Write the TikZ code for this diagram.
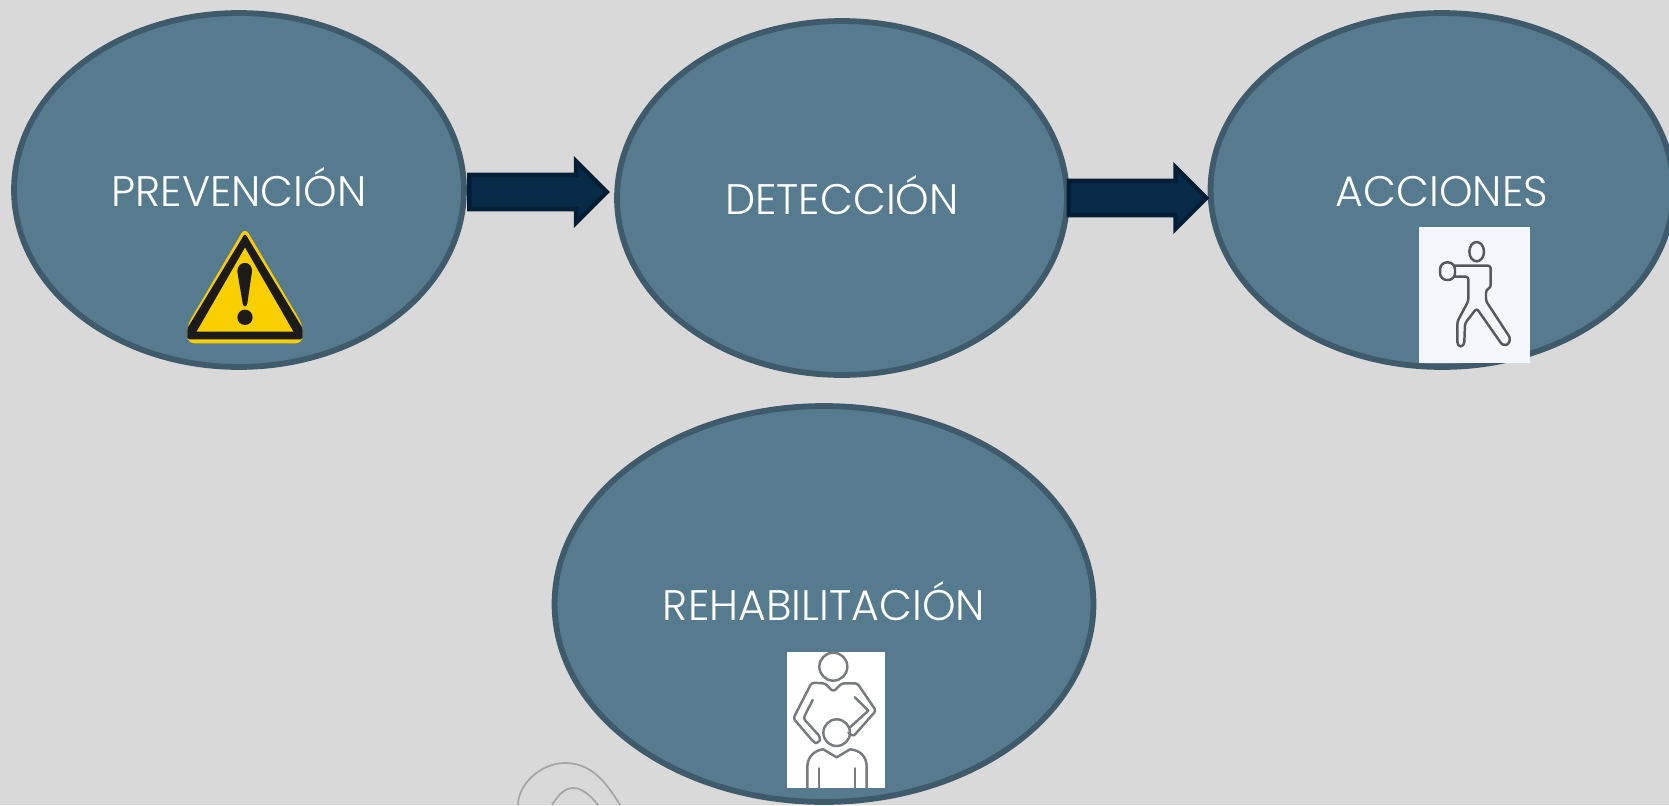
\documentclass[tikz,border=0pt]{standalone}
\usepackage{fontspec}
\setmainfont{Poppins Light}
\usetikzlibrary{shapes.geometric,shapes.arrows,positioning}

\definecolor{bggray}{HTML}{D9D9D9}
\definecolor{stagefill}{HTML}{567B8F}
\definecolor{stageline}{HTML}{3F5A6B}
\definecolor{arrowfill}{HTML}{072A48}
\definecolor{arrowline}{HTML}{041E36}
\definecolor{signyellow}{HTML}{FACF00}
\definecolor{signblack}{HTML}{1D1B19}
\definecolor{iconline}{HTML}{55595E}
\definecolor{iconback}{HTML}{F3F6FA}

\tikzset{
  stage/.style={ellipse, draw=stageline, fill=stagefill, line width = 3.3pt, inner sep = 0, text=white, font=\fontsize{24.3}{26}\selectfont, text height = 19pt, text depth = 0pt},
  bigarrow/.style={single arrow, draw=arrowline, fill=arrowfill, line width = 2.5pt, inner xsep = 0, inner ysep = 5pt, single arrow head extend = 5pt, single arrow tip angle = 90, minimum height = 78.2pt, minimum width = 35pt},
  iconstroke/.style={draw=iconline, line width = 1.4pt, line join=round, line cap=round}
}

\begin{document}
\begin{tikzpicture}[x=0.02cm,y=-0.02cm]

\fill [bggray] (0,0) rectangle (1669,805);
\useasboundingbox (0,0) rectangle (1669,805);
\clip (0,0) rectangle (1669,805);

\node [stage, minimum width = 9cm, minimum height = 7.08cm] (prevencion) at (239,190) {PREVENCIÓN};
\node [stage, minimum width = 9cm, minimum height = 7.08cm] (deteccion) at (842,198) {DETECCIÓN};
\node [stage, minimum width = 9.26cm, minimum height = 7.08cm] (acciones) at (1442,190) {ACCIONES};
\node [stage, minimum width = 10.78cm, minimum height = 7.92cm] (rehabilitacion) at (824,604) {REHABILITACIÓN};

\node [bigarrow] (arrowone) at (529.5,192) {};
\node [bigarrow] (arrowtwo) at (1129,198) {};

\begin{scope}[shift={(160,210)},x=0.00667cm,y=-0.00667cm]
  \fill [signyellow, rounded corners=4pt] (255,52) -- (428,345) -- (428,400) -- (82,400) -- (82,345) -- cycle;
  \fill [signblack, rounded corners=1pt] (255,70) -- (428,355) -- (428,388) -- (82,388) -- (82,355) -- cycle;
  \fill [signyellow] (255,113) -- (400,365) -- (110,365) -- cycle;
  \fill [signblack] (232,185) .. controls (232,150) and (278,150) .. (276,185) -- (262,280) .. controls (260,292) and (250,292) .. (248,280) -- cycle;
  \fill [signblack] (255,322) circle [radius=23];
\end{scope}

\begin{scope}[shift={(1400,215)},x=0.00667cm,y=-0.00667cm]
  \fill [iconback] (57,36) rectangle (390,443);
  \draw [iconstroke] (230,110) ellipse [x radius=22, y radius=29];
  \draw [iconstroke, rounded corners=4pt] (120,142) rectangle (165,195);
  \draw [iconstroke, rounded corners=1.5pt] (165,152) -- (272,152) -- (272,218) -- (258,225) -- (258,258) -- (328,365);
  \draw [iconstroke] (328,365) .. controls (335,392) and (310,398) .. (300,380);
  \draw [iconstroke, rounded corners=1.5pt] (300,380) -- (230,280) -- (195,325) -- (193,380);
  \draw [iconstroke] (193,380) .. controls (190,400) and (172,398) .. (172,380);
  \draw [iconstroke, rounded corners=1.5pt] (172,380) -- (172,320) -- (205,258) -- (205,185) -- (165,185);
\end{scope}

\begin{scope}[shift={(770,640)},x=0.00667cm,y=-0.00667cm]
  \fill [white] (50,36) rectangle (345,445);
  \draw [iconstroke, draw=iconline!80] (190,80) circle [radius=42];
  \draw [iconstroke, draw=iconline!80, rounded corners=1.5pt] (128,180) -- (100,235) -- (150,290) .. controls (150,305) and (138,310) .. (130,305) -- (70,235) -- (125,128) -- (165,130) -- (190,155) -- (215,130) -- (262,130) -- (318,212) -- (258,280) .. controls (250,288) and (240,285) .. (235,278);
  \draw [iconstroke, draw=iconline!80] (255,172) -- (295,212) -- (240,262);
  \draw [iconstroke, draw=iconline!80] (200,278) circle [radius=40];
  \draw [iconstroke, draw=iconline!80] (112,445) -- (112,380) .. controls (112,350) and (135,330) .. (160,328) -- (200,352) -- (240,328) .. controls (270,330) and (290,350) .. (290,380) -- (290,445);
  \draw [iconstroke, draw=iconline!80] (147,385) -- (147,445);
  \draw [iconstroke, draw=iconline!80] (255,385) -- (255,445);
\end{scope}

\draw [draw=black!35, line width = 1pt] (518,805) .. controls (518,785) and (540,763) .. (565,763) .. controls (590,763) and (605,780) .. (620,805);
\draw [draw=black!35, line width = 1pt] (552,805) .. controls (558,795) and (565,788) .. (573,788) .. controls (582,788) and (590,795) .. (598,805);

\end{tikzpicture}
\end{document}
